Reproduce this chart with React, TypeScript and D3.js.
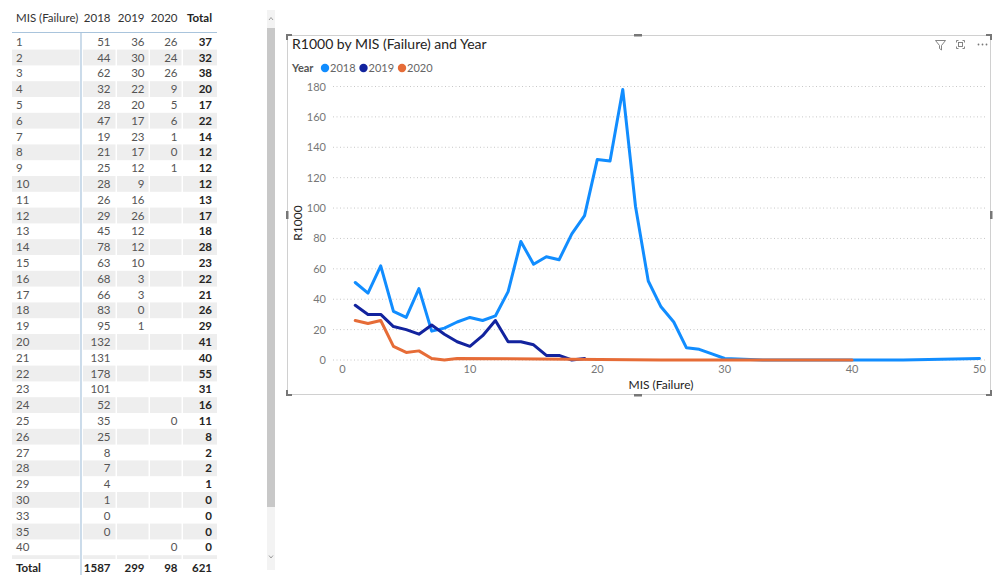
import React from "react";
import * as d3 from "d3";

const misRows = [1,2,3,4,5,6,7,8,9,10,11,12,13,14,15,16,17,18,19,20,21,22,23,24,25,26,27,28,29,30,33,35,40,44,50];
const v2018: (number|null)[] = [51,44,62,32,28,47,19,21,25,28,26,29,45,78,63,68,66,83,95,132,131,178,101,52,35,25,8,7,4,1,0,0,null,0,1];
const v2019: (number|null)[] = [36,30,30,22,20,17,23,17,12,9,16,26,12,12,10,3,3,0,1,null,null,null,null,null,null,null,null,null,null,null,null,null,null,null,null];
const v2020: (number|null)[] = [26,24,26,9,5,6,1,0,1,null,null,null,null,null,null,null,null,null,null,null,null,null,null,null,0,null,null,null,null,null,null,null,0,null,null];
const vTotal: number[] = [37,32,38,20,17,22,14,12,12,12,13,17,18,28,23,22,21,26,29,41,40,55,31,16,11,8,2,2,1,0,0,0,0,0,0];
const totalsRow = ["1587","299","98","621"];
const years = ["2018","2019","2020"];
const colors = ["#118DFF","#12239E","#E66C37"];
const yTicks = [0,20,40,60,80,100,120,140,160,180];
const xTicks = [0,10,20,30,40,50];

const FONT = "'Segoe UI', Lato, 'Open Sans', sans-serif";
const VISIBLE_ROWS = 33;

export default function App() {
  const x = d3.scaleLinear().domain([0, 50]).range([342.5, 979.5]);
  const y = d3.scaleLinear().domain([0, 180]).range([360, 86.5]);
  const series = [v2018, v2019, v2020];
  const line = d3.line<[number, number]>().x(d => x(d[0])).y(d => y(d[1]));

  const rowTop = (i: number) => 33.8 + 15.8 * i;
  const rowMid = (i: number) => 41.7 + 15.8 * i;
  const cells = [[12, 79.5], [83, 115.5], [117, 148.5], [150, 181.5], [183, 217]];
  const rightX = [110.5, 144.5, 177.5, 212];

  return (
    <svg width={998} height={588} style={{ position: "absolute", left: 0, top: 0, background: "#fff" }} fontFamily={FONT}>
      <defs>
        <clipPath id="bodyClip"><rect x={0} y={33} width={260} height={526} /></clipPath>
      </defs>
      {/* Table header */}
      <g fontSize={11.5} fill="#333">
        <text x={16} y={22}>MIS (Failure)</text>
        {years.map((yr, i) => (
          <text key={yr} x={rightX[i]} y={22} textAnchor="end">{yr}</text>
        ))}
        <text x={rightX[3]} y={22} textAnchor="end" fontWeight="bold" fill="#252423">Total</text>
      </g>
      <line x1={12} x2={217} y1={32.5} y2={32.5} stroke="#a9c4dc" strokeWidth={1.2} />
      <g clipPath="url(#bodyClip)" fontSize={11.5}>
        {misRows.map((m, i) => (
          <g key={m}>
            {i % 2 === 1 && cells.map((c, j) => (
              <rect key={j} x={c[0]} y={rowTop(i)} width={c[1] - c[0]} height={15.8} fill="#eeeeee" />
            ))}
            {i < VISIBLE_ROWS && (
              <>
                <text x={16} y={rowMid(i) + 4} fill="#555">{m}</text>
                {series.map((s, j) => s[i] !== null ? (
                  <text key={j} x={rightX[j]} y={rowMid(i) + 4} textAnchor="end" fill="#555">{s[i]}</text>
                ) : null)}
                <text x={rightX[3]} y={rowMid(i) + 4} textAnchor="end" fontWeight="bold" fill="#252423">{vTotal[i]}</text>
              </>
            )}
          </g>
        ))}
      </g>
      <g fontSize={11.5} fontWeight="bold" fill="#252423">
        <text x={16} y={572}>Total</text>
        {totalsRow.map((t, i) => (
          <text key={i} x={rightX[i]} y={572} textAnchor="end">{t}</text>
        ))}
      </g>
      <line x1={81} x2={81} y1={32.5} y2={575} stroke="#a9c4dc" strokeWidth={1.2} />

      {/* Scrollbar */}
      <rect x={267} y={10} width={8} height={560} fill="#f3f3f3" />
      <rect x={267} y={28} width={8} height={479} fill="#c8c8c8" />
      <path d="M269,20 L271,17.5 L273,20" fill="none" stroke="#888" strokeWidth={0.8} />
      <path d="M269,555.5 L271,558 L273,555.5" fill="none" stroke="#888" strokeWidth={0.8} />

      {/* Chart frame */}
      <rect x={287.5} y={35.5} width={703} height={359} fill="none" stroke="#d0d0d0" strokeWidth={1} />
      <g fill="#777">
        <path d="M286,34 h6 v2 h-4 v4 h-2 z" />
        <path d="M992,34 h-6 v2 h4 v4 h2 z" />
        <path d="M286,396 h6 v-2 h-4 v-4 h-2 z" />
        <path d="M992,396 h-6 v-2 h4 v-4 h2 z" />
        <rect x={634} y={34} width={8} height={2.5} />
        <rect x={634} y={394} width={8} height={2.5} />
        <rect x={286} y={211} width={2.5} height={8} />
        <rect x={990} y={211} width={2.5} height={8} />
      </g>

      {/* Title */}
      <text x={292} y={48.5} fontSize={14} fill="#252423">R1000 by MIS (Failure) and Year</text>
      {/* Legend */}
      <text x={292} y={72} fontSize={11} fontWeight="bold" fill="#555">Year</text>
      {years.map((yr, i) => {
        const cx = [325, 363.5, 402][i];
        return (
          <g key={yr}>
            <circle cx={cx} cy={68} r={4.2} fill={colors[i]} />
            <text x={cx + 5} y={72} fontSize={11} fill="#666">{yr}</text>
          </g>
        );
      })}

      {/* Header icons */}
      <g fill="none" stroke="#777" strokeWidth={0.9}>
        <path d="M935.5,40.5 h10 l-4,5 v4.5 l-2,-1.5 v-3 z" />
        <path d="M956.5,42.5 v-2 h2 M962.5,40.5 h2 v2 M964.5,46.5 v2 h-2 M958.5,48.5 h-2 v-2" />
        <rect x={958.5} y={42.5} width={4} height={4} />
      </g>
      <g fill="#777">
        <circle cx={978.5} cy={44.5} r={0.9} />
        <circle cx={982.5} cy={44.5} r={0.9} />
        <circle cx={986.5} cy={44.5} r={0.9} />
      </g>

      {/* Gridlines */}
      {yTicks.map(t => (
        <line key={t} x1={333} x2={985} y1={y(t)} y2={y(t)} stroke="#c8c8c8" strokeWidth={1} strokeDasharray="1 2.5" />
      ))}
      {/* Y ticks */}
      <g fontSize={11} fill="#777" textAnchor="end">
        {yTicks.map(t => (
          <text key={t} x={326} y={y(t) + 4}>{t}</text>
        ))}
      </g>
      {/* X ticks */}
      <g fontSize={11} fill="#777" textAnchor="middle">
        {xTicks.map(t => (
          <text key={t} x={x(t)} y={372.5}>{t}</text>
        ))}
      </g>
      <text x={661} y={389} fontSize={12} fill="#252423" textAnchor="middle">MIS (Failure)</text>
      <text transform={`translate(302,223) rotate(-90)`} fontSize={12} fill="#252423" textAnchor="middle">R1000</text>

      {/* Lines */}
      {series.map((s, j) => {
        const pts: [number, number][] = [];
        s.forEach((v, i) => { if (v !== null) pts.push([misRows[i], v]); });
        return (
          <path key={j} d={line(pts) || ""} fill="none" stroke={colors[j]} strokeWidth={3} strokeLinejoin="round" strokeLinecap="round" />
        );
      })}
    </svg>
  );
}
